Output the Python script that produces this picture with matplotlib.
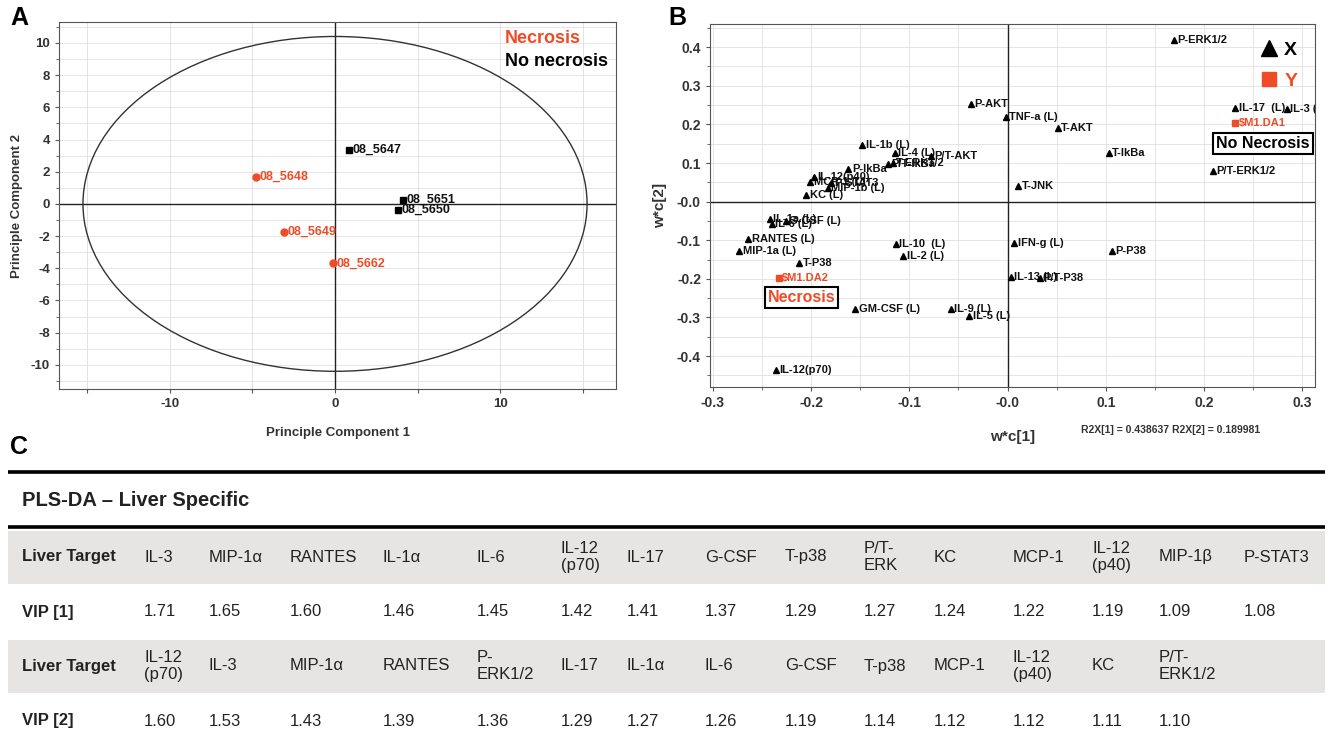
import matplotlib.pyplot as plt
import numpy as np
from matplotlib.patches import Ellipse, Rectangle
from matplotlib.lines import Line2D
from matplotlib.ticker import MultipleLocator, FixedLocator, FixedFormatter

plt.rcParams['font.family'] = ['Liberation Sans', 'DejaVu Sans']
plt.rcParams['axes.unicode_minus'] = False

RED = '#EF4B26'
DARK = '#222222'

# ---- Panel A: PCA scores ----
nec_ids = ['08_5648', '08_5649', '08_5662']
nec_pc1 = [-4.8, -3.1, -0.15]
nec_pc2 = [1.7, -1.75, -3.7]

non_ids = ['08_5647', '08_5651', '08_5650']
non_pc1 = [0.84, 4.1, 3.8]
non_pc2 = [3.35, 0.25, -0.37]

ellipse_rx = 15.25
ellipse_ry = 10.4

# ---- Panel B: PLS-DA loadings ----
x_names = ['P-ERK1/2', 'P-AKT', 'TNF-a (L)', 'T-AKT', 'T-IkBa', 'IL-17  (L)', 'IL-3 (L)',
           'P/T-ERK1/2', 'T-JNK', 'IL-1b (L)', 'IL-4 (L)', 'P/T-AKT', 'P/T-IkBa', 'T-ERK1/2',
           'P-IkBa', 'IL-12(p40)', 'MCP-1 (L)', 'P-STAT3', 'MIP-1b (L)', 'KC (L)',
           'IL-1a (L)', 'G-CSF (L)', 'IL-6 (L)', 'RANTES (L)', 'MIP-1a (L)', 'T-P38',
           'GM-CSF (L)', 'IL-10  (L)', 'IL-2 (L)', 'IL-9 (L)', 'IL-5 (L)', 'IFN-g (L)',
           'P-P38', 'IL-13 (L)', 'P/T-P38', 'IL-12(p70)']
x_w1 = [0.169, -0.037, -0.002, 0.051, 0.103, 0.232, 0.284,
        0.209, 0.011, -0.148, -0.115, -0.078, -0.122, -0.117,
        -0.162, -0.197, -0.201, -0.180, -0.183, -0.205,
        -0.242, -0.226, -0.240, -0.264, -0.273, -0.212,
        -0.155, -0.114, -0.106, -0.058, -0.039, 0.007,
        0.106, 0.003, 0.033, -0.236]
x_w2 = [0.418, 0.254, 0.218, 0.190, 0.127, 0.242, 0.239,
        0.080, 0.041, 0.147, 0.127, 0.117, 0.097, 0.100,
        0.085, 0.063, 0.050, 0.048, 0.036, 0.018,
        -0.045, -0.050, -0.058, -0.096, -0.129, -0.158,
        -0.279, -0.109, -0.140, -0.277, -0.297, -0.108,
        -0.128, -0.194, -0.199, -0.437]

y_names = ['$M1.DA1', '$M1.DA2']
y_w1 = [0.232, -0.233]
y_w2 = [0.203, -0.199]

group_names = ['No Necrosis', 'Necrosis']
group_w1 = [0.26, -0.21]
group_w2 = [0.15, -0.249]

b_xticks = [-0.3, -0.2, -0.1, 0.0, 0.1, 0.2, 0.3]
b_xticklabels = ['-0.3', '-0.2', '-0.1', '-0.0', '0.1', '0.2', '0.3']
b_yticks = [0.4, 0.3, 0.2, 0.1, 0.0, -0.1, -0.2, -0.3, -0.4]
b_yticklabels = ['0.4', '0.3', '0.2', '0.1', '-0.0', '-0.1', '-0.2', '-0.3', '-0.4']

# ---- Panel C: VIP table ----
vip1_targets = ['IL-3', 'MIP-1\u03b1', 'RANTES', 'IL-1\u03b1', 'IL-6', 'IL-12\n(p70)', 'IL-17',
                'G-CSF', 'T-p38', 'P/T-\nERK', 'KC', 'MCP-1', 'IL-12\n(p40)', 'MIP-1\u03b2',
                'P-STAT3']
vip1_values = [1.71, 1.65, 1.60, 1.46, 1.45, 1.42, 1.41, 1.37, 1.29, 1.27, 1.24, 1.22,
               1.19, 1.09, 1.08]
vip2_targets = ['IL-12\n(p70)', 'IL-3', 'MIP-1\u03b1', 'RANTES', 'P-\nERK1/2', 'IL-17',
                'IL-1\u03b1', 'IL-6', 'G-CSF', 'T-p38', 'MCP-1', 'IL-12\n(p40)', 'KC',
                'P/T-\nERK1/2']
vip2_values = [1.60, 1.53, 1.43, 1.39, 1.36, 1.29, 1.27, 1.26, 1.19, 1.14, 1.12, 1.12,
               1.11, 1.10]

W, H = 1330, 745
fig = plt.figure(figsize=(W / 100, H / 100), dpi=100)


def frac(x0, y0, x1, y1):
    return [x0 / W, 1 - y1 / H, (x1 - x0) / W, (y1 - y0) / H]


# ==========================================
# Panel A
# ==========================================
axA = fig.add_axes(frac(59, 22, 616, 389))
axA.set_xlim(-16.7, 17.0)
axA.set_ylim(-11.5, 11.3)
axA.add_patch(Ellipse((0, 0), 2 * ellipse_rx, 2 * ellipse_ry, fill=False,
                      ec='#333333', lw=1.0, zorder=3))
axA.axhline(0, color='#222222', lw=1.0, zorder=2)
axA.axvline(0, color='#222222', lw=1.0, zorder=2)

axA.plot(non_pc1, non_pc2, ls='none', marker='s', ms=5, color='black', zorder=4)
axA.plot(nec_pc1, nec_pc2, ls='none', marker='o', ms=5, color=RED, zorder=4)
for name, x, y in zip(non_ids, non_pc1, non_pc2):
    axA.annotate(name, (x, y), xytext=(2.5, 0), textcoords='offset points',
                 va='center', fontsize=9, fontweight='bold', color='#111111')
for name, x, y in zip(nec_ids, nec_pc1, nec_pc2):
    axA.annotate(name, (x, y), xytext=(2.5, 0), textcoords='offset points',
                 va='center', fontsize=9, fontweight='bold', color=RED)

axA.xaxis.set_major_locator(MultipleLocator(5))
axA.xaxis.set_major_formatter(plt.FuncFormatter(
    lambda v, p: '%d' % round(v) if round(v) % 10 == 0 else ''))
axA.yaxis.set_major_locator(MultipleLocator(2))
axA.yaxis.set_minor_locator(MultipleLocator(1))
axA.grid(axis='x', which='major', color='#dddddd', lw=0.6)
axA.grid(axis='y', which='both', color='#e2e2e2', lw=0.6)
axA.set_axisbelow(True)
axA.tick_params(labelsize=9.5, length=3, color='#555555', labelcolor='#333333')
axA.tick_params(which='minor', length=2, color='#555555')
for lab in axA.get_xticklabels() + axA.get_yticklabels():
    lab.set_fontweight('bold')
for sp in axA.spines.values():
    sp.set_color('#555555')
axA.set_xlabel('Principle Component 1', fontsize=9.5, fontweight='bold', color='#333333')
axA.set_ylabel('Principle Component 2', fontsize=9.5, fontweight='bold', color='#333333')
axA.xaxis.set_label_coords(0.5, -0.103)
axA.yaxis.set_label_coords(-0.065, 0.5)

axA.text(0.80, 0.955, 'Necrosis', transform=axA.transAxes, color=RED,
         fontsize=13, fontweight='bold', va='center')
axA.text(0.80, 0.893, 'No necrosis', transform=axA.transAxes, color='black',
         fontsize=13, fontweight='bold', va='center')

# ==========================================
# Panel B
# ==========================================
axB = fig.add_axes(frac(710, 24, 1315, 387))
axB.set_xlim(-0.303, 0.313)
axB.set_ylim(-0.48, 0.46)
axB.axhline(0, color='#222222', lw=1.0, zorder=2)
axB.axvline(0, color='#222222', lw=1.0, zorder=2)

axB.plot(x_w1, x_w2, ls='none', marker='^', ms=5, color='black', zorder=4)
for name, x, y in zip(x_names, x_w1, x_w2):
    axB.annotate(name, (x, y), xytext=(2.5, 0), textcoords='offset points',
                 va='center', fontsize=8, fontweight='bold', color='#111111',
                 annotation_clip=True, clip_on=True)
axB.plot(y_w1, y_w2, ls='none', marker='s', ms=4, color=RED, zorder=4)
for name, x, y in zip(y_names, y_w1, y_w2):
    axB.annotate(name, (x, y), xytext=(2.5, 0), textcoords='offset points',
                 va='center', fontsize=8, fontweight='bold', color=RED)
group_colors = ['black', RED]
for name, x, y, c in zip(group_names, group_w1, group_w2, group_colors):
    axB.text(x, y, name, ha='center', va='center', fontsize=11.5, fontweight='bold',
             color=c, bbox=dict(boxstyle='square,pad=0.18', fc='white', ec='black', lw=1.5),
             zorder=5)

axB.xaxis.set_major_locator(FixedLocator(b_xticks))
axB.xaxis.set_major_formatter(FixedFormatter(b_xticklabels))
axB.yaxis.set_major_locator(FixedLocator(b_yticks))
axB.yaxis.set_major_formatter(FixedFormatter(b_yticklabels))
axB.xaxis.set_minor_locator(MultipleLocator(0.05))
axB.yaxis.set_minor_locator(MultipleLocator(0.05))
axB.grid(which='both', color='#e0e0e0', lw=0.6)
axB.set_axisbelow(True)
axB.tick_params(labelsize=10, length=3, color='#555555', labelcolor='#333333')
axB.tick_params(which='minor', length=2, color='#555555')
for lab in axB.get_xticklabels() + axB.get_yticklabels():
    lab.set_fontweight('bold')
for sp in axB.spines.values():
    sp.set_color('#555555')
axB.set_xlabel('w*c[1]', fontsize=11, fontweight='bold', color='#333333')
axB.set_ylabel('w*c[2]', fontsize=11, fontweight='bold', color='#333333')
axB.xaxis.set_label_coords(0.5, -0.118)
axB.yaxis.set_label_coords(-0.071, 0.5)

handles = [Line2D([], [], ls='none', marker='^', ms=11, color='black'),
           Line2D([], [], ls='none', marker='s', ms=10, color=RED)]
axB.legend(handles, ['X', 'Y'], loc='upper right', frameon=False,
           prop=dict(weight='bold', size=14), labelcolor=['black', RED],
           handlelength=1.0, handletextpad=0.3, labelspacing=0.7,
           borderaxespad=0.2, bbox_to_anchor=(0.99, 0.985))

fig.text(1081 / W, 1 - 430 / H, 'R2X[1] = 0.438637 R2X[2] = 0.189981',
         fontsize=7.5, fontweight='bold', color='#333333', va='center')

# ==========================================
# Panel C: table
# ==========================================
axC = fig.add_axes([0, 0, 1, 1], zorder=-1)
axC.set_xlim(0, W)
axC.set_ylim(H, 0)
axC.axis('off')

col_x = [22, 144, 209, 290, 383, 477, 561, 627, 705, 785, 864, 934, 1013, 1092, 1159, 1244]
row_y = [557, 612, 666, 721]
band_h = 53
grey = '#E7E5E4'

axC.plot([8, 1325], [472, 472], color='black', lw=2.6, solid_capstyle='butt')
axC.plot([8, 1325], [527, 527], color='black', lw=2.6, solid_capstyle='butt')
for ry in (row_y[0], row_y[2]):
    axC.add_patch(Rectangle((8, ry - band_h / 2), 1317, band_h, fc=grey, ec='none'))

axC.text(22, 500, 'PLS-DA \u2013 Liver Specific', fontsize=14.5, fontweight='bold',
         va='center', color=DARK)

rows = [('Liver Target', vip1_targets), ('VIP [1]', ['%.2f' % v for v in vip1_values]),
        ('Liver Target', vip2_targets), ('VIP [2]', ['%.2f' % v for v in vip2_values])]
for ry, (head, cells) in zip(row_y, rows):
    axC.text(col_x[0], ry, head, fontsize=12, fontweight='bold', va='center', color=DARK)
    for cx, cell in zip(col_x[1:], cells):
        axC.text(cx, ry, cell, fontsize=12, va='center', color=DARK, linespacing=1.15)

# Panel letters
fig.text(10 / W, 1 - 18 / H, 'A', fontsize=18, fontweight='bold', va='center')
fig.text(668 / W, 1 - 18 / H, 'B', fontsize=18, fontweight='bold', va='center')
fig.text(10 / W, 1 - 447 / H, 'C', fontsize=18, fontweight='bold', va='center')

fig.savefig('out.png', dpi=100)
